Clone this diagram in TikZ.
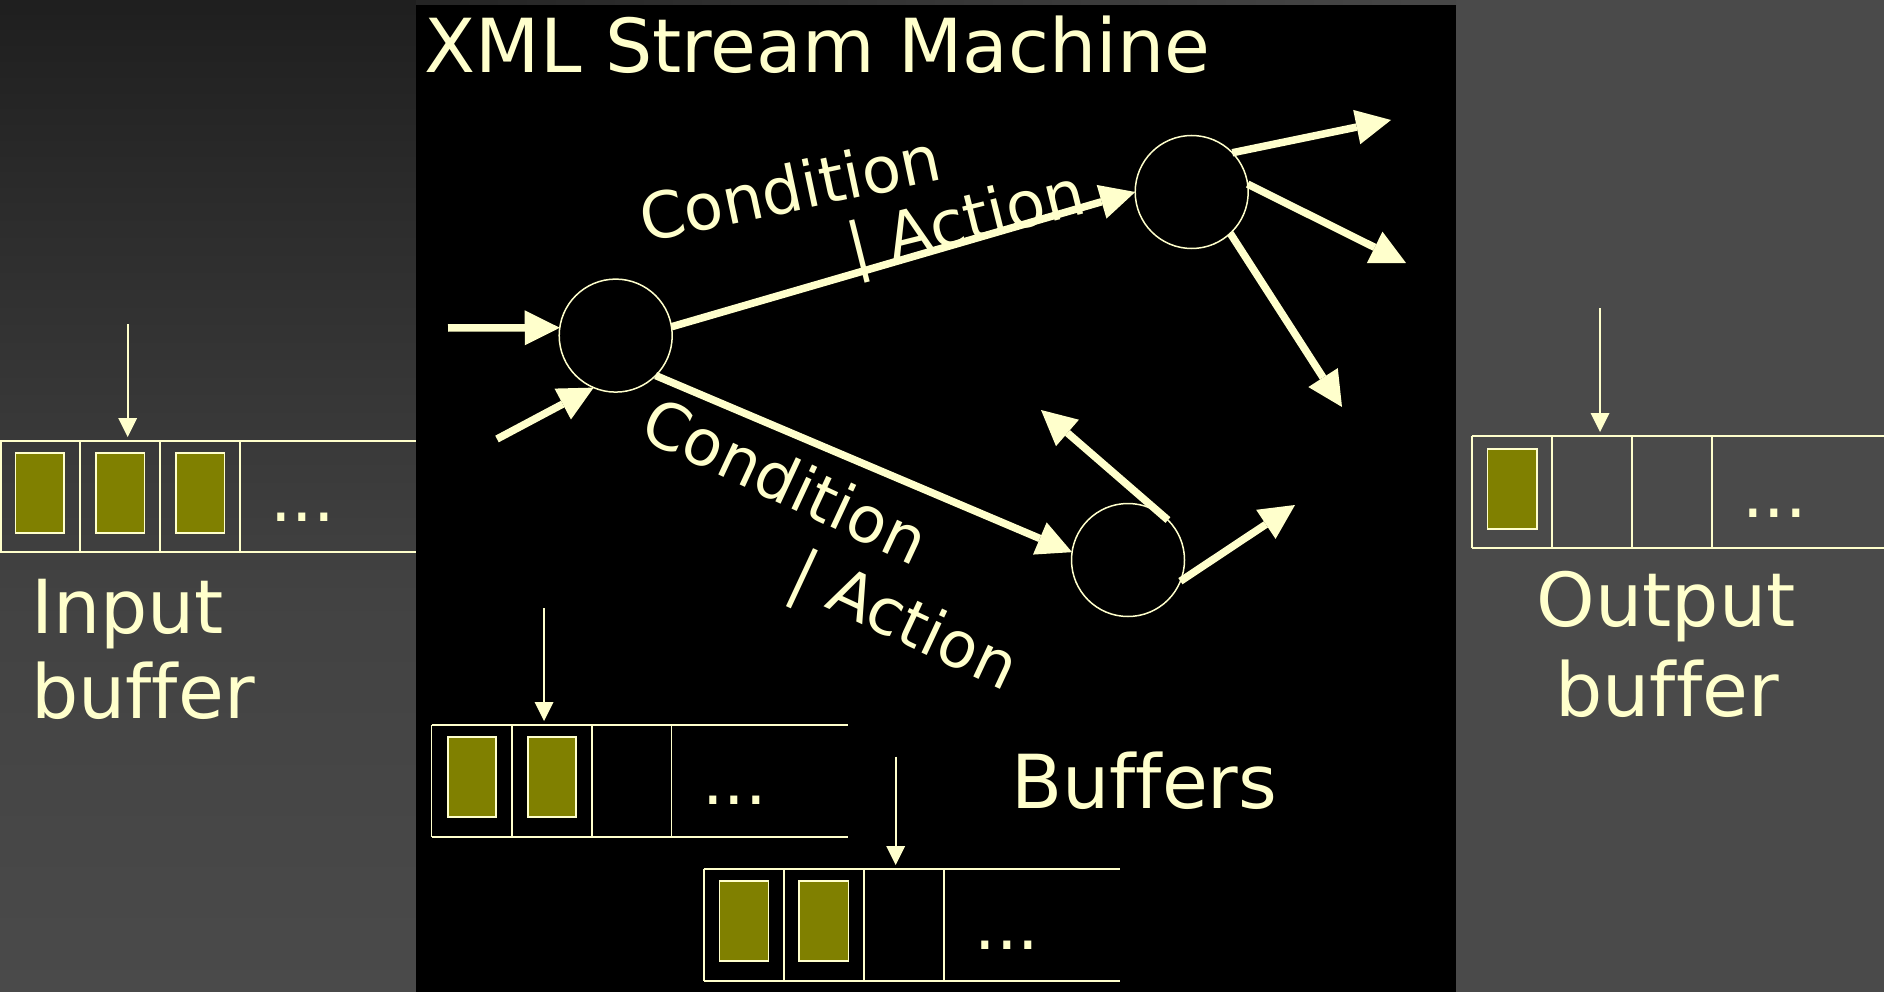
\documentclass[tikz,border=0pt]{standalone}
\usepackage{fontspec}
\setmainfont[Ligatures={NoCommon}]{DejaVu Sans}
\usetikzlibrary{arrows.meta}
\definecolor{pale}{HTML}{FFFFCC}
\definecolor{olive}{HTML}{808000}
\definecolor{side}{HTML}{4A4A4A}
\tikzset{
  txt/.style={text=pale, inner sep=0pt, font=\fontsize{74.5}{89}\selectfont},
  lbl/.style={text=pale, inner sep=0pt, font=\fontsize{64}{77}\selectfont},
  dots/.style={text=pale, inner sep=0pt, font=\fontsize{68}{80}\selectfont, anchor=base},
  state/.style={circle, draw=pale, line width=1.5pt, minimum size=113pt, inner sep=0pt, outer sep=0pt},
  fat/.style={draw=pale, line width=7.5pt, -{Triangle[length=35pt,width=35pt,line width=0pt]}},
  ptr/.style={draw=pale, line width=1.6pt, -{Triangle[length=19pt,width=19pt,line width=0pt]}},
  cell/.style={draw=pale, line width=1.6pt},
  token/.style={draw=pale, fill=olive, line width=1.6pt}
}
\begin{document}
\begin{tikzpicture}[x=1pt, y=-1pt]
\useasboundingbox (0,0) rectangle (1884,992);
% backdrop
\fill[side] (0,0) rectangle (1884,992);
\shade[top color=black!88, bottom color=black!83] (0,0) rectangle (416,201);
\shade[top color=black!83, bottom color=black!74] (0,200) rectangle (416,601);
\shade[top color=black!74, bottom color=black!71] (0,600) rectangle (416,992);
\shade[left color=black!86, right color=black!72] (416,0) rectangle (1456,6);
% machine panel
\fill[black] (416,5) rectangle (1456,992);
\node[txt, anchor=base west] (title) at (424.5,72.7) {XML Stream Machine};

% input buffer
\draw[cell] (0,441) -- (416,441);
\draw[cell] (0,552) -- (416,552);
\foreach \x in {0.8,80,160,240} \draw[cell] (\x,441) -- (\x,552);
\foreach \x in {15.5,95.7,175.7} \draw[token] (\x,452.7) rectangle ++(48.7,80);
\node[dots] (indots) at (302.5,521) {...};
\coordinate (inptrA) at (127.7,324);
\coordinate (inptrB) at (127.7,437);
\draw[ptr] (inptrA) -- (inptrB);
\node[txt, anchor=base west] (in1) at (31,633) {Input};
\node[txt, anchor=base west] (in2) at (31,718) {buffer};

% output buffer
\draw[cell] (1472,436) -- (1884,436);
\draw[cell] (1472,548) -- (1884,548);
\foreach \x in {1472,1552,1632,1712} \draw[cell] (\x,436) -- (\x,548);
\draw[token] (1487.3,448.7) rectangle (1536.7,529);
\node[dots] (outdots) at (1774.5,517.7) {...};
\coordinate (outptrA) at (1600,308);
\coordinate (outptrB) at (1600,432);
\draw[ptr] (outptrA) -- (outptrB);
\node[txt, anchor=base] (out1) at (1666,626.7) {Output};
\node[txt, anchor=base] (out2) at (1667,716.7) {buffer};

% internal buffers
\draw[cell] (431.5,725) -- (848.4,725);
\draw[cell] (431.5,836.7) -- (848.4,836.7);
\foreach \x in {431.5,511.8,591.7,671.6} \draw[cell] (\x,725) -- (\x,836.7);
\foreach \x in {448,527.9} \draw[token] (\x,736.7) rectangle ++(48.2,80.3);
\node[dots] (bufAdots) at (734.5,804) {...};
\coordinate (bufAptrA) at (544,608);
\coordinate (bufAptrB) at (544,721);
\draw[ptr] (bufAptrA) -- (bufAptrB);

\draw[cell] (703.7,868.7) -- (1120,868.7);
\draw[cell] (703.7,980.7) -- (1120,980.7);
\foreach \x in {703.7,784,864,943.9} \draw[cell] (\x,868.7) -- (\x,980.7);
\foreach \x in {719.4,799.2} \draw[token] (\x,881) rectangle ++(49.2,80);
\node[dots] (bufBdots) at (1007,949) {...};
\coordinate (bufBptrA) at (895.7,756.7);
\coordinate (bufBptrB) at (895.7,865);
\draw[ptr] (bufBptrA) -- (bufBptrB);
\node[txt, anchor=base west] (buffers) at (1011,808.3) {Buffers};

% states
\node[state] (c1) at (615.7,335.6) {};
\node[state] (c2) at (1191.7,192) {};
\node[state] (c3) at (1128,560) {};

% transitions
\coordinate (inA) at (448,328);
\coordinate (inB) at (497,439);
\draw[fat] (inA) -- (c1.172);
\draw[fat] (inB) -- (c1.247);
\draw[fat] (c1.9) -- (c2.west);
\draw[fat] (c1.-45) -- (c3.172);
\coordinate (oA) at (1391,120);
\coordinate (oB) at (1406,263);
\coordinate (oC) at (1342,407);
\draw[fat] (c2.44) -- (oA);
\draw[fat] (c2.8) -- (oB);
\draw[fat] (c2.-47) -- (oC);
\coordinate (oD) at (1041,410);
\coordinate (oE) at (1295,505);
\draw[fat] (c3.45) -- (oD);
\draw[fat] (c3.-22) -- (oE);

% transition labels
\node[lbl, rotate=12, anchor=base west] (cu1) at (645,243) {Condition};
\node[lbl, rotate=14, anchor=base west] (cu2) at (853,271) {| Action};
\node[lbl, rotate=-25, anchor=base west] (cl1) at (637,437) {Condition};
\node[lbl, rotate=-25, anchor=base west] (cl2) at (785,589) {| Action};
\end{tikzpicture}
\end{document}
